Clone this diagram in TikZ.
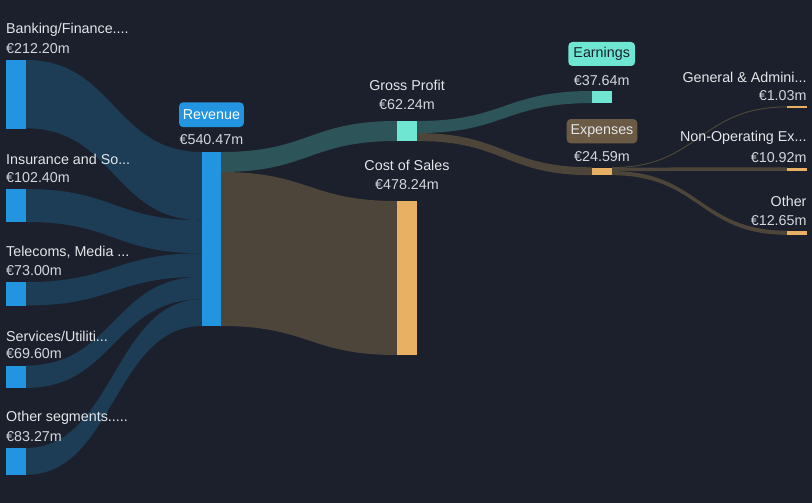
\documentclass[tikz,border=0pt]{standalone}
\usepackage{fontspec}
\setmainfont{Liberation Sans}
\definecolor{bg}{HTML}{1B202C}
\definecolor{nblue}{HTML}{2394E0}
\definecolor{fblue}{HTML}{1D3D57}
\definecolor{fteal}{HTML}{2D5458}
\definecolor{fbrown}{HTML}{4D4539}
\definecolor{nteal}{HTML}{6EE6D2}
\definecolor{norange}{HTML}{E8B063}
\definecolor{bbrown}{HTML}{6B5A44}
\definecolor{txt}{HTML}{E4E6E9}
\definecolor{val}{HTML}{D3D6DB}
\newcommand\sflow[7]{%
  \fill[#7] (#1,#2) .. controls ({(#1+#4)/2},#2) and ({(#1+#4)/2},#5) .. (#4,#5)
    -- (#4,#6) .. controls ({(#1+#4)/2},#6) and ({(#1+#4)/2},#3) .. (#1,#3) -- cycle;}
\begin{document}
\begin{tikzpicture}[x=1pt,y=-1pt,
  bar/.style={anchor=north west,inner sep=0pt,minimum width=20pt},
  lbl/.style={inner sep=0pt,yshift=-1pt,text=txt,font=\fontsize{14.3}{17}\selectfont},
  vlbl/.style={inner sep=0pt,yshift=-1pt,text=val,font=\fontsize{14.3}{17}\selectfont},
  badge/.style={rounded corners=4pt,inner sep=0pt,font=\fontsize{14.3}{17}\selectfont}]
\useasboundingbox[fill=bg] (0,0) rectangle (812,503);
% flows left -> revenue
\sflow{26}{60}{128.3}{202}{152}{220.3}{fblue}
\sflow{26}{189}{222}{202}{220.3}{253.3}{fblue}
\sflow{26}{282}{305.5}{202}{253.3}{276.8}{fblue}
\sflow{26}{365.5}{387.9}{202}{276.8}{299.2}{fblue}
\sflow{26}{448}{474.8}{202}{299.2}{326}{fblue}
% revenue -> GP / COS
\sflow{221}{152}{172}{397}{121}{141}{fteal}
\sflow{221}{172}{326}{397}{201}{355}{fbrown}
% GP -> earnings / expenses
\sflow{417}{121}{133.1}{592}{91}{103.1}{fteal}
\sflow{417}{133.1}{141}{592}{167.3}{175.2}{fbrown}
% expenses -> right
\draw[fbrown,line width=1pt] (612,167.6) .. controls (699.5,167.6) and (699.5,106.9) .. (787,106.9);
\sflow{612}{167.6}{171.1}{787}{167.3}{170.8}{fbrown}
\sflow{612}{171.1}{175.2}{787}{230.7}{234.8}{fbrown}
% nodes
\node[bar,fill=nblue,minimum height=68.3pt] (bank) at (6,60) {};
\node[bar,fill=nblue,minimum height=33pt] (ins) at (6,189) {};
\node[bar,fill=nblue,minimum height=23.5pt] (tel) at (6,282) {};
\node[bar,fill=nblue,minimum height=22.4pt] (serv) at (6,365.5) {};
\node[bar,fill=nblue,minimum height=26.8pt] (oth) at (6,448) {};
\node[bar,fill=nblue,minimum width=19pt,minimum height=174pt] (rev) at (202,152) {};
\node[bar,fill=nteal,minimum height=20pt] (gp) at (397,121) {};
\node[bar,fill=norange,minimum height=154pt] (cos) at (397,201) {};
\node[bar,fill=nteal,minimum height=12.1pt] (earn) at (592,91) {};
\node[bar,fill=norange,minimum height=7.9pt] (exp) at (592,167.3) {};
\node[bar,fill=norange,minimum height=1.2pt] (ga) at (787,106.3) {};
\node[bar,fill=norange,minimum height=3.5pt] (nonop) at (787,167.3) {};
\node[bar,fill=norange,minimum height=4.1pt] (other) at (787,230.7) {};
% left labels
\node[lbl,anchor=west] (bankl) at (6,29) {Banking/Finance....};
\node[vlbl,anchor=west] (bankv) at (6,48) {€212.20m};
\node[lbl,anchor=west] (insl) at (6,158.3) {Insurance and So...};
\node[vlbl,anchor=west] (insv) at (6,176.7) {€102.40m};
\node[lbl,anchor=west] (tell) at (6,251.5) {Telecoms, Media ...};
\node[vlbl,anchor=west] (telv) at (6,270) {€73.00m};
\node[lbl,anchor=west] (servl) at (6,335) {Services/Utiliti...};
\node[vlbl,anchor=west] (servv) at (6,352.7) {€69.60m};
\node[lbl,anchor=west] (othl) at (6,416.7) {Other segments.....};
\node[vlbl,anchor=west] (othv) at (6,435.7) {€83.27m};
% middle labels
\node[badge,fill=nblue,text=white,minimum width=64.7pt,minimum height=24.7pt] (revb) at (211.4,114.7) {Revenue};
\node[vlbl] (revv) at (211.4,138.7) {€540.47m};
\node[lbl] (gpl) at (407,84) {Gross Profit};
\node[vlbl] (gpv) at (407,103.3) {€62.24m};
\node[lbl] (cosl) at (407,164) {Cost of Sales};
\node[vlbl] (cosv) at (407,183.3) {€478.24m};
\node[badge,fill=nteal,text=bg,minimum width=66.7pt,minimum height=24pt] (earnb) at (601.7,54) {Earnings};
\node[vlbl] (earnv) at (601.7,79.3) {€37.64m};
\node[badge,fill=bbrown,text=txt,minimum width=70.6pt,minimum height=24.3pt] (expb) at (602,131.2) {Expenses};
\node[vlbl] (expv) at (602,156) {€24.59m};
% right labels
\node[lbl,anchor=east] (gal) at (806.7,76) {General \& Admini...};
\node[vlbl,anchor=east] (gav) at (806.7,95) {€1.03m};
\node[lbl,anchor=east] (nonopl) at (806.7,137.3) {Non-Operating Ex...};
\node[vlbl,anchor=east] (nonopv) at (806.7,156.7) {€10.92m};
\node[lbl,anchor=east] (otherl) at (806.7,200) {Other};
\node[vlbl,anchor=east] (otherv) at (806.7,219.3) {€12.65m};
\end{tikzpicture}
\end{document}
